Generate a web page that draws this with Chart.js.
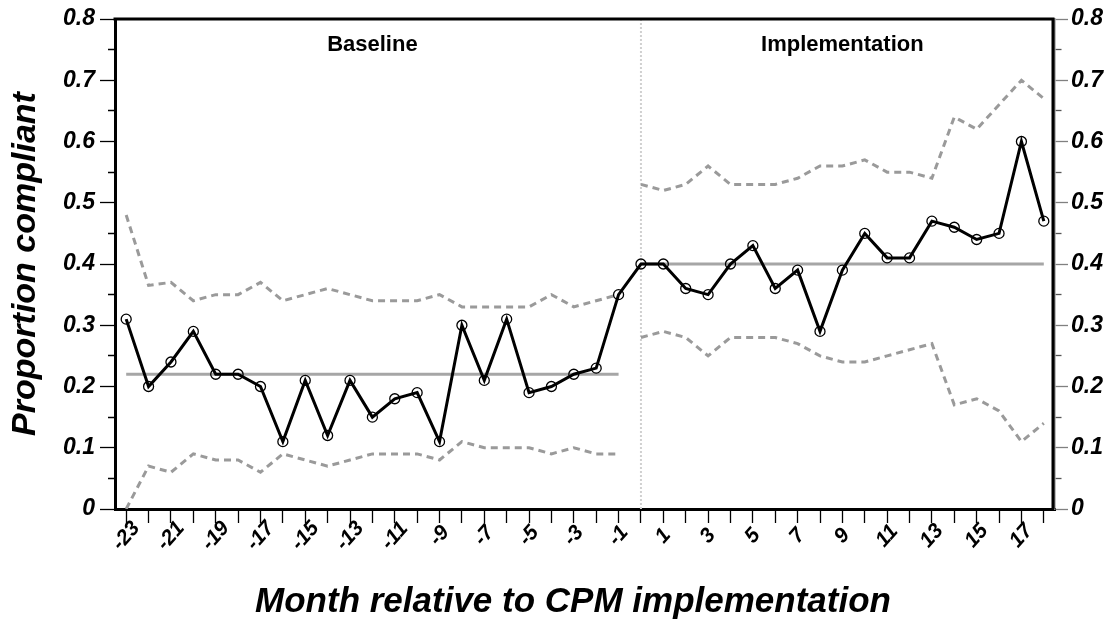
<!DOCTYPE html>
<html>
<head>
<meta charset="utf-8">
<title>Proportion compliant by month relative to CPM implementation</title>
<script src="https://cdn.jsdelivr.net/npm/chart.js@4.4.1/dist/chart.umd.min.js"></script>
<style>
  html, body { margin: 0; padding: 0; background: #ffffff; }
  #wrap { width: 1120px; height: 620px; }
</style>
</head>
<body>
<div id="wrap"><canvas id="chart" width="1120" height="620"></canvas></div>
<script>
// Months relative to CPM implementation
const baselineMonths = [-23, -22, -21, -20, -19, -18, -17, -16, -15, -14, -13, -12,
                        -11, -10, -9, -8, -7, -6, -5, -4, -3, -2, -1];
const implementationMonths = [0, 1, 2, 3, 4, 5, 6, 7, 8, 9, 10, 11, 12, 13, 14, 15, 16, 17, 18];

// Monthly proportion compliant
const baselineCompliance = [0.31, 0.20, 0.24, 0.29, 0.22, 0.22, 0.20, 0.11, 0.21, 0.12, 0.21, 0.15,
                            0.18, 0.19, 0.11, 0.30, 0.21, 0.31, 0.19, 0.20, 0.22, 0.23, 0.35];
const implementationCompliance = [0.40, 0.40, 0.36, 0.35, 0.40, 0.43, 0.36, 0.39, 0.29, 0.39,
                                  0.45, 0.41, 0.41, 0.47, 0.46, 0.44, 0.45, 0.60, 0.47];

// Phase centre lines
const baselineCenter = 0.22;
const implementationCenter = 0.40;

// Control limits
const baselineUpper = [0.48, 0.365, 0.37, 0.34, 0.35, 0.35, 0.37, 0.34, 0.35, 0.36, 0.35, 0.34,
                       0.34, 0.34, 0.35, 0.33, 0.33, 0.33, 0.33, 0.35, 0.33, 0.34, 0.35];
const baselineLower = [0.00, 0.07, 0.06, 0.09, 0.08, 0.08, 0.06, 0.09, 0.08, 0.07, 0.08, 0.09,
                       0.09, 0.09, 0.08, 0.11, 0.10, 0.10, 0.10, 0.09, 0.10, 0.09, 0.09];
const implementationUpper = [0.53, 0.52, 0.53, 0.56, 0.53, 0.53, 0.53, 0.54, 0.56, 0.56,
                             0.57, 0.55, 0.55, 0.54, 0.64, 0.62, 0.66, 0.70, 0.67];
const implementationLower = [0.28, 0.29, 0.28, 0.25, 0.28, 0.28, 0.28, 0.27, 0.25, 0.24,
                             0.24, 0.25, 0.26, 0.27, 0.17, 0.18, 0.16, 0.11, 0.14];

// Labelled months on the x axis and labelled proportions on the y axes
const xTickLabels = ['-23', '-21', '-19', '-17', '-15', '-13', '-11', '-9', '-7', '-5', '-3', '-1',
                     '1', '3', '5', '7', '9', '11', '13', '15', '17'];
const yTickLabels = ['0', '0.1', '0.2', '0.3', '0.4', '0.5', '0.6', '0.7', '0.8'];

const phaseNames = ['Baseline', 'Implementation'];
const xTitle = 'Month relative to CPM implementation';

const months = baselineMonths.concat(implementationMonths);
const baseNulls = baselineMonths.map(() => null);
const implNulls = implementationMonths.map(() => null);

const FONT = '"Liberation Sans", Arial, Helvetica, sans-serif';

const isMajor = v => Math.round(v * 100) % 10 === 0;
const yLabel = v => {
  const s = v === 0 ? '0' : v.toFixed(1);
  return isMajor(v) && yTickLabels.includes(s) ? s : '';
};

// Extra drawing: divider, plot frame, phase names, rotated month labels, x title
const overlay = {
  id: 'overlay',
  beforeDatasetsDraw(chart) {
    const { ctx, chartArea, scales } = chart;
    const px = scales.x.getPixelForValue(months.indexOf(implementationMonths[0]));
    ctx.save();
    ctx.strokeStyle = '#d0d0d0';
    ctx.lineWidth = 2;
    ctx.setLineDash([2, 2]);
    ctx.beginPath();
    ctx.moveTo(px, chartArea.top);
    ctx.lineTo(px, chartArea.bottom);
    ctx.stroke();
    ctx.restore();
  },
  afterDraw(chart) {
    const { ctx, chartArea, scales } = chart;
    const { left, right, top, bottom } = chartArea;
    ctx.save();
    // frame: top and right edges
    ctx.strokeStyle = '#000000';
    ctx.lineWidth = 3;
    ctx.beginPath();
    ctx.moveTo(left - 1.5, top);
    ctx.lineTo(right - 2, top);
    ctx.lineTo(right - 2, bottom);
    ctx.stroke();

    // phase names centred over each phase
    ctx.fillStyle = '#000000';
    ctx.font = 'bold 22px ' + FONT;
    ctx.textAlign = 'center';
    ctx.textBaseline = 'middle';
    const phases = [baselineMonths, implementationMonths];
    phases.forEach((pm, i) => {
      const a = scales.x.getPixelForValue(months.indexOf(pm[0]));
      const b = scales.x.getPixelForValue(months.indexOf(pm[pm.length - 1]));
      ctx.fillText(phaseNames[i], (a + b) / 2, top + 26);
    });

    // rotated month labels
    ctx.font = 'italic bold 21px ' + FONT;
    xTickLabels.forEach(lbl => {
      const idx = months.indexOf(Number(lbl));
      const px = scales.x.getPixelForValue(idx);
      ctx.save();
      ctx.translate(px, scales.x.top + 27);
      ctx.rotate(-Math.PI * 0.27);
      ctx.fillText(lbl, 0, 0);
      ctx.restore();
    });

    // x axis title
    ctx.font = 'italic bold 35px ' + FONT;
    ctx.fillText(xTitle, left + (right - left) / 2 - 12, 602);
    ctx.restore();
  }
};

new Chart(document.getElementById('chart'), {
  type: 'line',
  data: {
    labels: months.map(String),
    datasets: [
      {
        label: 'Proportion compliant',
        data: baselineCompliance.concat(implementationCompliance),
        borderColor: '#000000',
        borderWidth: 3,
        pointRadius: 5,
        pointBorderWidth: 1.3,
        pointBorderColor: '#000000',
        pointBackgroundColor: 'rgba(0,0,0,0)',
        tension: 0
      },
      {
        label: 'Baseline centre line',
        data: baselineMonths.map(() => baselineCenter).concat(implNulls),
        borderColor: '#a6a6a6',
        borderWidth: 3,
        pointRadius: 0
      },
      {
        label: 'Implementation centre line',
        data: baseNulls.concat(implementationMonths.map(() => implementationCenter)),
        borderColor: '#a6a6a6',
        borderWidth: 3,
        pointRadius: 0
      },
      {
        label: 'Baseline upper limit',
        data: baselineUpper.concat(implNulls),
        borderColor: '#9a9a9a',
        borderWidth: 3,
        borderDash: [7, 5],
        pointRadius: 0
      },
      {
        label: 'Baseline lower limit',
        data: baselineLower.concat(implNulls),
        borderColor: '#9a9a9a',
        borderWidth: 3,
        borderDash: [7, 5],
        pointRadius: 0
      },
      {
        label: 'Implementation upper limit',
        data: baseNulls.concat(implementationUpper),
        borderColor: '#9a9a9a',
        borderWidth: 3,
        borderDash: [7, 5],
        pointRadius: 0
      },
      {
        label: 'Implementation lower limit',
        data: baseNulls.concat(implementationLower),
        borderColor: '#9a9a9a',
        borderWidth: 3,
        borderDash: [7, 5],
        pointRadius: 0
      }
    ]
  },
  options: {
    responsive: false,
    animation: false,
    devicePixelRatio: 1,
    layout: { padding: { top: 19, bottom: 0, left: 0, right: 0 } },
    plugins: { legend: { display: false }, tooltip: { enabled: false } },
    scales: {
      x: {
        type: 'category',
        offset: true,
        grid: {
          display: true,
          drawOnChartArea: false,
          drawTicks: true,
          tickLength: 14,
          offset: false,
          tickColor: '#000000',
          tickWidth: 1.3
        },
        border: { display: true, color: '#000000', width: 3 },
        ticks: { display: false },
        afterFit(scale) { scale.height = 111; }
      },
      y: {
        position: 'left',
        min: 0,
        max: 0.8,
        ticks: {
          stepSize: 0.05,
          maxTicksLimit: 100,
          autoSkip: false,
          padding: 5,
          color: '#000000',
          font: { family: FONT, size: 23, weight: 'bold', style: 'italic' },
          callback: v => yLabel(v)
        },
        grid: {
          drawOnChartArea: false,
          drawTicks: true,
          tickLength: 15,
          tickColor: '#000000',
          tickWidth: 1.3,
          tickBorderDash: ctx => (ctx.tick && isMajor(ctx.tick.value)) ? [] : [0, 8, 7, 100]
        },
        border: { display: true, color: '#000000', width: 3 },
        title: {
          display: true,
          text: 'Proportion compliant',
          color: '#000000',
          font: { family: FONT, size: 34, weight: 'bold', style: 'italic', lineHeight: 1 },
          padding: { top: 9, bottom: 0 }
        },
        afterFit(scale) { scale.width = 115; }
      },
      y2: {
        position: 'right',
        min: 0,
        max: 0.8,
        ticks: {
          stepSize: 0.05,
          maxTicksLimit: 100,
          autoSkip: false,
          padding: 3,
          color: '#000000',
          font: { family: FONT, size: 23, weight: 'bold', style: 'italic' },
          callback: v => yLabel(v)
        },
        grid: {
          drawOnChartArea: false,
          drawTicks: true,
          tickLength: 13,
          tickColor: ctx => (ctx.tick && isMajor(ctx.tick.value)) ? '#808080' : '#555555',
          tickWidth: 1.3,
          tickBorderDash: ctx => (ctx.tick && isMajor(ctx.tick.value)) ? [] : [6, 100]
        },
        border: { display: true, color: '#808080', width: 1.5 },
        afterFit(scale) { scale.width = 65; }
      }
    }
  },
  plugins: [overlay]
});
</script>
</body>
</html>
